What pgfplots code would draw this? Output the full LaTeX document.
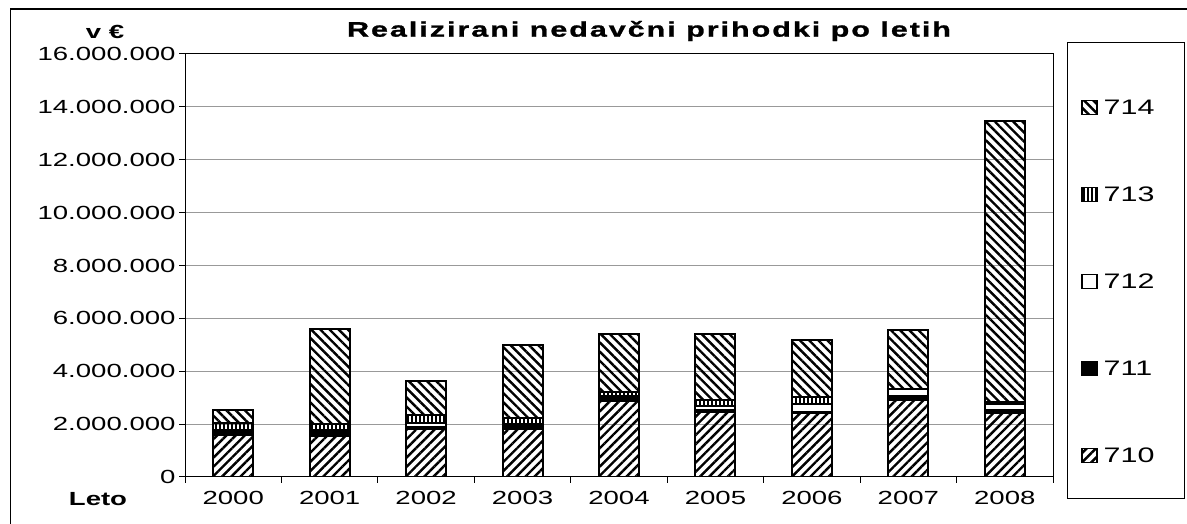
\documentclass[border=0pt]{standalone}
\usepackage{fontspec}
\setmainfont{Liberation Sans}[FakeStretch=1.45]
\newfontfamily\tfont{Liberation Sans Bold}[FakeStretch=1.45,LetterSpace=9.5,FakeBold=1.2]
\usepackage{pgfplots}
\pgfplotsset{compat=1.18}
\usetikzlibrary{patterns.meta}
\begin{document}
\begin{tikzpicture}[x=1bp,y=1bp]
\useasboundingbox (0,0) rectangle (1187,524);
\draw[line width=1.2bp] (10.5,0) -- (10.5,515) -- (1187,515);
\draw[line width=1bp] (1067,481) rectangle (1184,25);
\begin{axis}[
  at={(185bp,47bp)}, anchor=south west,
  scale only axis, width=868bp, height=423bp,
  ybar stacked, bar width=40bp,
  xmin=-0.5, xmax=8.5, ymin=0, ymax=16000000,
  xtick={-0.5,0.5,1.5,2.5,3.5,4.5,5.5,6.5,7.5,8.5},
  x tick label as interval,
  xticklabels={2000,2001,2002,2003,2004,2005,2006,2007,2008},
  xticklabel style={yshift=-5bp},
  ytick={0,2000000,4000000,6000000,8000000,10000000,12000000,14000000,16000000},
  scaled y ticks=false,
  /pgf/number format/.cd, fixed, 1000 sep={.}, assume math mode=true, /pgfplots/.cd,
  tick label style={font=\fontsize{19bp}{22bp}\selectfont, black},
  xtick pos=bottom, ytick pos=left,
  tick align=outside, major tick length=6bp,
  tick style={black, line width=1bp},
  ymajorgrids, major grid style={gray!80, line width=1bp},
  axis line style={black, line width=1bp},
  reverse legend,
  legend style={at={(1.0161,0.9161)}, anchor=north west, draw=none, fill=none,
    font=\fontsize{21bp}{24bp}\selectfont, inner xsep=14bp, inner ysep=10bp,
    row sep=71.5bp, nodes={text height=15bp, text depth=0bp, inner ysep=0bp, inner xsep=6bp}},
  legend cell align=left,
  every axis plot post/.append style={legend image code/.code={\draw[##1, line width=1.5bp] (0bp,-7bp) rectangle (15bp,7bp);}},
]
\addplot[draw=black, line width=2bp, pattern={Lines[angle=45,distance=6.5bp,line width=2.4bp]}] coordinates
 {(0,1580000) (1,1540000) (2,1800000) (3,1800000) (4,2860000) (5,2450000) (6,2410000) (7,2920000) (8,2430000)};
\addplot[draw=black, line width=2bp, fill=black] coordinates
 {(0,190000) (1,230000) (2,100000) (3,200000) (4,190000) (5,100000) (6,60000) (7,150000) (8,120000)};
\addplot[draw=black, line width=2bp, fill=white] coordinates
 {(0,0) (1,0) (2,150000) (3,0) (4,0) (5,120000) (6,300000) (7,250000) (8,200000)};
\addplot[draw=black, line width=2bp, pattern={Lines[angle=90,distance=4bp,line width=1.8bp]}] coordinates
 {(0,270000) (1,230000) (2,300000) (3,220000) (4,150000) (5,250000) (6,240000) (7,0) (8,100000)};
\addplot[draw=black, line width=2bp, pattern={Lines[angle=-45,distance=6.5bp,line width=2.4bp]}] coordinates
 {(0,510000) (1,3600000) (2,1280000) (3,2780000) (4,2200000) (5,2480000) (6,2190000) (7,2230000) (8,10600000)};
\legend{710,711,712,713,714}
\draw[line width=2bp, black] (rel axis cs:0,0) -- (rel axis cs:0,1);
\end{axis}
\node[font=\tfont\fontsize{21bp}{24bp}\selectfont] at (649,493) {Realizirani nedavčni prihodki po letih};
\node[font=\bfseries\fontsize{19bp}{22bp}\selectfont] at (105,492) {v €};
\node[font=\bfseries\fontsize{19bp}{22bp}\selectfont] at (98,25) {Leto};
\end{tikzpicture}
\end{document}
